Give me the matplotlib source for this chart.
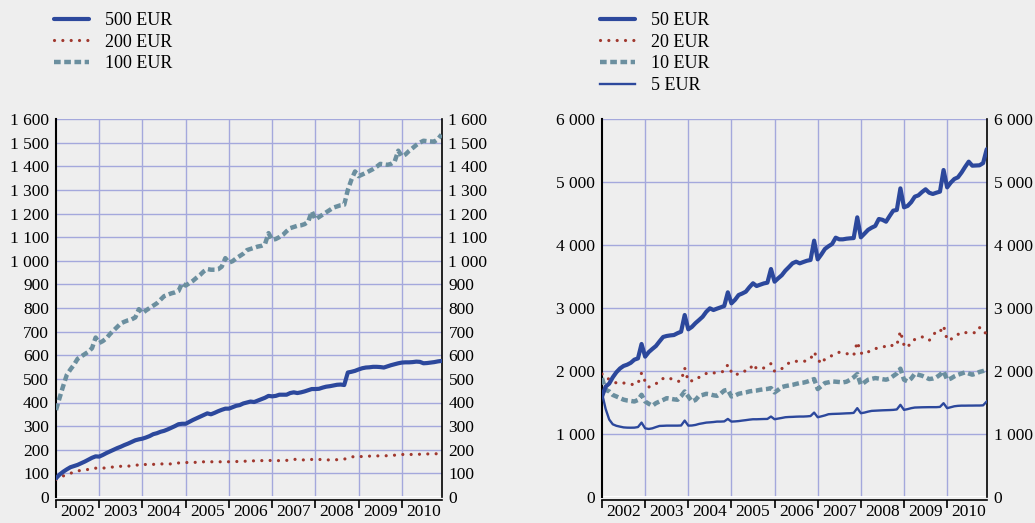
import numpy as np
import matplotlib
matplotlib.use("Agg")
import matplotlib.pyplot as plt
from matplotlib.lines import Line2D
from matplotlib.ticker import FuncFormatter

plt.rcParams['font.family'] = ['Liberation Serif', 'DejaVu Serif']
plt.rcParams['font.size'] = 13

# Monthly banknote circulation, January 2002 – December 2010 (millions of notes)
years = ['2002', '2003', '2004', '2005', '2006', '2007', '2008', '2009', '2010']

eur500 = [79, 95, 107, 117, 126, 131, 136, 143, 150, 158, 166, 172,
          171, 178, 186, 193, 200, 207, 213, 220, 226, 233, 240, 244,
          247, 252, 258, 266, 270, 276, 280, 286, 293, 300, 308, 310,
          310, 318, 326, 333, 340, 347, 354, 350, 356, 363, 369, 374,
          374, 380, 386, 389, 396, 400, 404, 402, 408, 414, 420, 428,
          426, 428, 433, 433, 433, 440, 443, 440, 443, 447, 452, 457,
          457, 458, 463, 467, 469, 472, 475, 476, 474, 527, 530, 534,
          540, 545, 548, 549, 551, 551, 550, 548, 553, 558, 562, 566,
          569, 570, 570, 571, 573, 572, 566, 567, 569, 571, 574, 576]

eur200 = [74, 82, 89, 95, 100, 106, 111, 112, 114, 117, 121, 122,
          121, 122, 124, 126, 127, 129, 130, 131, 131, 131, 133, 137,
          140, 137, 136, 138, 140, 140, 140, 140, 140, 142, 144, 146,
          146, 146, 146, 147, 148, 149, 149, 149, 149, 149, 149, 150,
          149, 150, 150, 151, 151, 152, 153, 153, 154, 154, 154, 155,
          154, 154, 154, 155, 155, 157, 160, 158, 157, 157, 157, 159,
          160, 159, 158, 157, 157, 157, 158, 159, 160, 166, 169, 172,
          172, 171, 172, 173, 173, 174, 174, 174, 175, 176, 177, 179,
          180, 180, 180, 180, 180, 181, 181, 182, 183, 183, 183, 183]

eur100 = [368, 420, 470, 517, 540, 560, 585, 595, 605, 615, 630, 675,
          652, 660, 672, 690, 705, 720, 735, 742, 748, 752, 760, 795,
          778, 790, 800, 810, 820, 835, 850, 856, 862, 866, 872, 905,
          895, 905, 915, 928, 940, 955, 965, 962, 962, 964, 975, 1011,
          992, 998, 1010, 1020, 1030, 1045, 1050, 1055, 1060, 1063, 1070, 1117,
          1088, 1092, 1100, 1110, 1125, 1138, 1143, 1148, 1150, 1155, 1165, 1209,
          1175, 1185, 1195, 1205, 1215, 1225, 1230, 1235, 1237, 1300, 1343, 1378,
          1358, 1365, 1372, 1380, 1388, 1398, 1410, 1408, 1406, 1410, 1420, 1466,
          1442, 1450, 1465, 1477, 1490, 1500, 1508, 1506, 1505, 1504, 1515, 1534]

eur50 = [1593, 1751, 1800, 1900, 1980, 2040, 2080, 2100, 2130, 2180, 2200, 2429,
         2228, 2300, 2350, 2397, 2470, 2540, 2556, 2565, 2571, 2600, 2624, 2889,
         2661, 2700, 2760, 2810, 2862, 2940, 2995, 2968, 2990, 3010, 3032, 3249,
         3074, 3130, 3206, 3230, 3259, 3330, 3392, 3349, 3370, 3390, 3402, 3619,
         3418, 3471, 3520, 3593, 3650, 3710, 3735, 3709, 3730, 3750, 3762, 4069,
         3772, 3850, 3937, 3980, 4016, 4116, 4090, 4090, 4100, 4106, 4110, 4439,
         4122, 4180, 4240, 4275, 4302, 4413, 4400, 4370, 4460, 4545, 4556, 4899,
         4598, 4620, 4680, 4767, 4788, 4840, 4884, 4830, 4810, 4830, 4847, 5190,
         4915, 4990, 5048, 5074, 5150, 5240, 5323, 5259, 5262, 5265, 5300, 5520]

eur20 = [1952, 1888, 1872, 1840, 1809, 1819, 1810, 1798, 1790, 1782, 1800, 1968,
         1835, 1745, 1770, 1793, 1862, 1880, 1899, 1880, 1862, 1835, 1840, 2048,
         1835, 1845, 1851, 1900, 1941, 1960, 1979, 1968, 1975, 1984, 1995, 2101,
         1984, 1931, 1960, 1995, 2000, 2011, 2112, 2037, 2040, 2048, 2080, 2117,
         1995, 2020, 2037, 2080, 2128, 2154, 2154, 2154, 2154, 2160, 2191, 2303,
         2191, 2112, 2191, 2220, 2245, 2270, 2298, 2285, 2277, 2260, 2245, 2463,
         2287, 2261, 2300, 2340, 2355, 2367, 2380, 2394, 2378, 2420, 2410, 2633,
         2410, 2367, 2473, 2500, 2520, 2543, 2510, 2484, 2560, 2633, 2620, 2720,
         2489, 2500, 2553, 2580, 2617, 2610, 2606, 2610, 2606, 2690, 2606, 2606]

eur10 = [1888, 1702, 1676, 1620, 1596, 1570, 1545, 1532, 1525, 1516, 1540, 1622,
         1516, 1480, 1447, 1490, 1516, 1540, 1569, 1560, 1550, 1543, 1600, 1676,
         1596, 1516, 1540, 1606, 1620, 1638, 1630, 1615, 1606, 1640, 1690, 1702,
         1596, 1610, 1638, 1650, 1660, 1676, 1685, 1690, 1702, 1710, 1715, 1729,
         1660, 1700, 1745, 1760, 1771, 1780, 1795, 1809, 1815, 1830, 1850, 1872,
         1713, 1760, 1809, 1820, 1835, 1830, 1825, 1819, 1830, 1860, 1900, 1952,
         1782, 1820, 1862, 1875, 1888, 1880, 1870, 1862, 1880, 1920, 1960, 2037,
         1862, 1835, 1880, 1957, 1940, 1925, 1900, 1872, 1880, 1900, 1940, 1995,
         1862, 1880, 1915, 1940, 1960, 1979, 1960, 1941, 1960, 1985, 2000, 2021]

eur5 = [1649, 1400, 1230, 1154, 1130, 1117, 1105, 1101, 1100, 1101, 1110, 1181,
        1090, 1080, 1090, 1110, 1128, 1130, 1133, 1133, 1133, 1133, 1135, 1213,
        1133, 1135, 1144, 1160, 1170, 1181, 1185, 1190, 1197, 1197, 1200, 1239,
        1197, 1200, 1205, 1213, 1220, 1228, 1234, 1234, 1236, 1238, 1239, 1277,
        1234, 1245, 1255, 1266, 1270, 1272, 1275, 1277, 1277, 1280, 1285, 1340,
        1266, 1280, 1295, 1314, 1318, 1320, 1322, 1325, 1328, 1330, 1335, 1410,
        1330, 1340, 1355, 1367, 1370, 1373, 1376, 1378, 1380, 1383, 1390, 1463,
        1383, 1395, 1410, 1420, 1422, 1424, 1425, 1426, 1426, 1426, 1430, 1489,
        1410, 1425, 1440, 1447, 1450, 1450, 1451, 1451, 1452, 1452, 1455, 1516]

BG = '#eeeeee'
GRID = '#a4a8dc'
BLUE = '#2c489c'
RED = '#a0382e'
SLATE = '#6b8f9f'

thick_solid = dict(color=BLUE, lw=3.0, linestyle='-', solid_capstyle='round', solid_joinstyle='round')
thin_solid = dict(color=BLUE, lw=1.7, linestyle='-', solid_joinstyle='round')
dotted = dict(color=RED, lw=2.3, linestyle=(0, (0.01, 2.6)), dash_capstyle='round')
dashed = dict(color=SLATE, lw=3.2, linestyle=(0, (1.5, 0.8)), dash_capstyle='butt')

W, H = 1035, 523
fig = plt.figure(figsize=(W / 100, H / 100), dpi=100, facecolor=BG)
ax1 = fig.add_axes([56 / W, 1 - 497 / H, 385.5 / W, 378 / H])
ax2 = fig.add_axes([602 / W, 1 - 497 / H, 384.7 / W, 378 / H])

n_months = len(years) * 12
months = np.arange(n_months)
year_starts = np.arange(0, n_months, 12)
thousands = FuncFormatter(lambda v, p: f"{int(v):,}".replace(",", " "))


def style(ax, ymax, step):
    ax.set_facecolor(BG)
    ax.set_xlim(0, n_months - 1)
    ax.set_ylim(0, ymax)
    yt = np.arange(0, ymax + step, step)
    ax.set_yticks(yt)
    ax.yaxis.set_major_formatter(thousands)
    ax.tick_params(axis='y', which='both', length=0, labelleft=True,
                   labelright=True, pad=5, labelsize=12.5)
    ax.set_xticks(year_starts)
    ax.set_xticklabels([])
    ax.set_xticks(year_starts + 6, minor=True)
    ax.set_xticklabels(years, minor=True)
    ax.tick_params(axis='x', which='major', length=6, width=1.2,
                   color='black', direction='out')
    ax.tick_params(axis='x', which='minor', length=0, pad=3, labelsize=12.5)
    for y in yt[1:]:
        ax.axhline(y, color=GRID, lw=1.0, zorder=1)
    for x in year_starts[1:]:
        ax.axvline(x, color=GRID, lw=1.0, zorder=1)
    ax.axhline(0, color='white', lw=2, zorder=1.5)
    ax.spines['top'].set_visible(False)
    ax.spines['left'].set_color('black')
    ax.spines['left'].set_linewidth(1.5)
    ax.spines['right'].set_color('black')
    ax.spines['right'].set_linewidth(1.2)
    ax.spines['bottom'].set_color('black')
    ax.spines['bottom'].set_linewidth(1.2)
    ax.spines['bottom'].set_position(('outward', 2))


style(ax1, 1600, 100)
style(ax2, 6000, 1000)

ax1.plot(months, eur100, zorder=3, **dashed)
ax1.plot(months, eur200, zorder=3, **dotted)
ax1.plot(months, eur500, zorder=4, **thick_solid)

ax2.plot(months, eur20, zorder=3, **dotted)
ax2.plot(months, eur10, zorder=3, **dashed)
ax2.plot(months, eur5, zorder=4, **thin_solid)
ax2.plot(months, eur50, zorder=5, **thick_solid)

legend_kw = dict(loc='upper left', frameon=False, handlelength=1.95,
                 handletextpad=0.85, labelspacing=0.26, borderpad=0,
                 borderaxespad=0, fontsize=13)

h1 = [Line2D([], [], **thick_solid), Line2D([], [], **dotted), Line2D([], [], **dashed)]
fig.legend(h1, ['500 EUR', '200 EUR', '100 EUR'],
           bbox_to_anchor=(54 / W, 1 - 12 / H), **legend_kw)

h2 = [Line2D([], [], **thick_solid), Line2D([], [], **dotted),
      Line2D([], [], **dashed), Line2D([], [], **thin_solid)]
fig.legend(h2, ['50 EUR', '20 EUR', '10 EUR', '5 EUR'],
           bbox_to_anchor=(600 / W, 1 - 12 / H), **legend_kw)

fig.savefig('out.png', dpi=100, facecolor=BG)
